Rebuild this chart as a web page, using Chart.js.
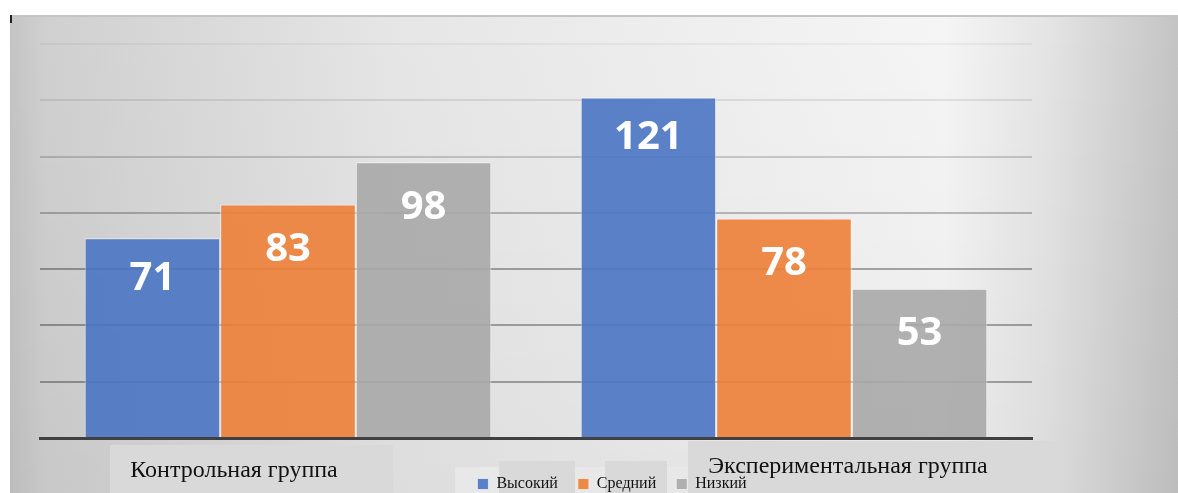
<!DOCTYPE html>
<html>
<head>
<meta charset="utf-8">
<script src="https://cdn.jsdelivr.net/npm/chart.js@4.4.0/dist/chart.umd.min.js"></script>
<style>
  html, body { margin: 0; padding: 0; background: #fff; }
  #wrap { position: relative; width: 1178px; height: 493px; overflow: hidden; }
  .panel {
    position: absolute; left: 10px; top: 15px; width: 1168px; height: 478px;
    border-top: 2px solid #c4c4c4; box-sizing: border-box;
    background:
      linear-gradient(to bottom, rgba(0,0,0,0) 0%, rgba(0,0,0,0.04) 100%),
      linear-gradient(to right, #c4c4c4 0%, #d0d0d0 3%, #dadada 17%, #e6e6e6 33%,
        #efefef 60%, #f5f5f5 80%, #e4e4e4 89%, #c4c4c4 100%);
  }
  .mark { position: absolute; left: 10px; top: 15px; width: 2px; height: 8px; background: #222; }
  canvas { position: absolute; left: 0; top: 0; }
</style>
</head>
<body>
<div id="wrap">
  <div class="panel"></div>
  <div class="mark"></div>
  <canvas id="myChart" width="1178" height="493"></canvas>
</div>
<script>
"use strict";

// DATA
const categories = ["Контрольная группа", "Экспериментальная группа"];
const seriesNames = ["Высокий", "Средний", "Низкий"];
const highValues = [71, 121];
const midValues = [83, 78];
const lowValues = [98, 53];
const yTicks = [0, 20, 40, 60, 80, 100, 120, 140];

const ctx = document.getElementById("myChart");

// grid lines fade out towards the top
const gridAlpha = (v) => {
  if (v >= 140) return 0.04;
  if (v >= 120) return 0.09;
  if (v >= 100) return 0.17;
  if (v >= 80) return 0.24;
  return 0.32;
};

// light boxes behind the texts
const backdrop = {
  id: "backdrop",
  beforeDraw(chart) {
    const c = chart.ctx;
    c.save();
    c.fillStyle = "#d9d9d9";
    c.fillRect(110, 445, 283, 48);
    c.fillRect(688, 441, 372, 52);
    c.fillStyle = "#e8e8e8";
    c.fillRect(455, 467, 233, 26);
    c.fillStyle = "#d9d9d9";
    c.fillRect(499, 461, 76, 32);
    c.fillRect(605, 461, 62, 32);
    c.restore();
  },
};

// category names under the axis
const categoryText = {
  id: "categoryText",
  afterDraw(chart) {
    const c = chart.ctx;
    const x = chart.scales.x;
    const shifts = [-54, 64];
    const bases = [477, 473];
    c.save();
    c.font = "24px 'Liberation Serif'";
    c.fillStyle = "#111";
    c.textAlign = "center";
    c.textBaseline = "alphabetic";
    categories.forEach((name, i) => {
      c.fillText(name, x.getPixelForValue(i) + shifts[i], bases[i]);
    });
    c.restore();
  },
};

// white values inside the bars
const valueLabels = {
  id: "valueLabels",
  afterDatasetsDraw(chart) {
    const c = chart.ctx;
    const drop = [40, 45, 45];
    c.save();
    c.font = "bold 40px 'Open Sans'";
    c.fillStyle = "#fff";
    c.textAlign = "center";
    c.textBaseline = "middle";
    chart.data.datasets.forEach((ds, i) => {
      chart.getDatasetMeta(i).data.forEach((bar, j) => {
        c.fillText(String(ds.data[j]), bar.x, bar.y + drop[i]);
      });
    });
    c.restore();
  },
};

// legend sits a bit right of the plot centre and low in the frame
const legendShift = {
  id: "legendShift",
  afterLayout(chart) {
    const lg = chart.legend;
    const dx = 612 - (lg.left + lg.right) / 2;
    lg.left += dx;
    lg.right += dx;
    lg.top = 456;
    lg.bottom = 493;
    lg.height = lg.bottom - lg.top;
  },
};

const chart = new Chart(ctx, {
  type: "bar",
  data: {
    labels: categories,
    datasets: [
      {
        label: seriesNames[0],
        data: highValues,
        backgroundColor: "rgba(74, 118, 196, 0.9)",
      },
      {
        label: seriesNames[1],
        data: midValues,
        backgroundColor: "rgba(237, 128, 56, 0.9)",
      },
      {
        label: seriesNames[2],
        data: lowValues,
        backgroundColor: "rgba(168, 168, 168, 0.9)",
      },
    ],
  },
  options: {
    responsive: false,
    animation: false,
    layout: {
      padding: { left: 40, right: 146, top: 44, bottom: 0 },
    },
    datasets: {
      bar: {
        categoryPercentage: 0.82,
        barPercentage: 1,
        borderWidth: 1,
        borderColor: "rgba(255, 255, 255, 0.6)",
      },
    },
    plugins: {
      tooltip: { enabled: false },
      legend: {
        position: "bottom",
        maxHeight: 26,
        labels: {
          boxWidth: 11,
          boxHeight: 11,
          padding: 20,
          color: "#111",
          font: { family: "'Liberation Serif'", size: 16 },
        },
      },
    },
    scales: {
      x: {
        grid: { display: false },
        ticks: { display: false },
        border: { display: true, color: "#404040", width: 3 },
        afterFit: (scale) => {
          scale.height = 29;
        },
      },
      y: {
        min: yTicks[0],
        max: yTicks[yTicks.length - 1],
        ticks: { display: false, stepSize: yTicks[1] - yTicks[0] },
        border: { display: false },
        grid: {
          drawTicks: false,
          lineWidth: 2,
          color: (c) => `rgba(0, 0, 0, ${gridAlpha(c.tick ? c.tick.value : 0)})`,
        },
      },
    },
  },
  plugins: [backdrop, categoryText, valueLabels, legendShift],
});
</script>
</body>
</html>
